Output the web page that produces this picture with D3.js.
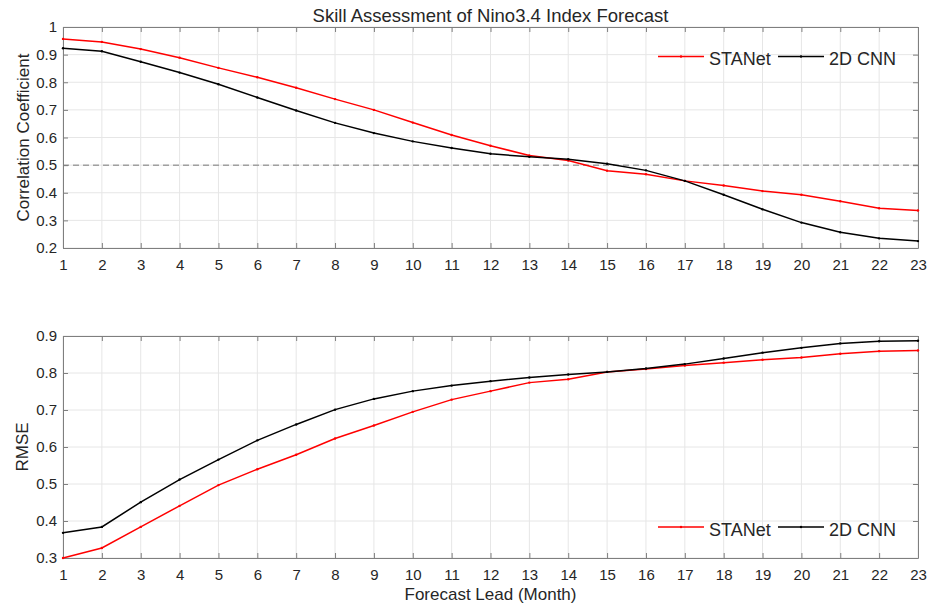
<!DOCTYPE html>
<html>
<head>
<meta charset="utf-8">
<script src="https://cdn.jsdelivr.net/npm/d3@7"></script>
<style>
  body { margin: 0; background: #fff; }
  svg text { font-family: "Liberation Sans", Arial, sans-serif; fill: #262626; }
</style>
</head>
<body>
<svg id="chart" width="939" height="607"></svg>
<script>
// forecast lead months
var leads = d3.range(1, 24);

// correlation coefficient per lead
var corrSTANet = [0.957, 0.946, 0.920, 0.889, 0.852, 0.818, 0.780, 0.739, 0.700, 0.654, 0.609, 0.570,
                  0.535, 0.517, 0.480, 0.467, 0.443, 0.426, 0.406, 0.393, 0.369, 0.344, 0.336];
var corrCNN = [0.923, 0.912, 0.874, 0.835, 0.793, 0.745, 0.698, 0.653, 0.616, 0.586, 0.562, 0.541,
               0.530, 0.521, 0.505, 0.481, 0.443, 0.393, 0.340, 0.292, 0.257, 0.235, 0.225];

// rmse per lead
var rmseSTANet = [0.300, 0.327, 0.384, 0.441, 0.497, 0.540, 0.579, 0.623, 0.658, 0.695, 0.728, 0.751,
                  0.774, 0.783, 0.803, 0.811, 0.820, 0.828, 0.836, 0.842, 0.852, 0.859, 0.861];
var rmseCNN = [0.368, 0.384, 0.451, 0.512, 0.566, 0.618, 0.661, 0.701, 0.730, 0.751, 0.766, 0.778,
               0.788, 0.796, 0.803, 0.812, 0.824, 0.839, 0.855, 0.868, 0.880, 0.886, 0.887];

var corrTicks = [0.2, 0.3, 0.4, 0.5, 0.6, 0.7, 0.8, 0.9, 1];
var rmseTicks = [0.3, 0.4, 0.5, 0.6, 0.7, 0.8, 0.9];
var seriesNames = ["STANet", "2D CNN"];
var seriesColors = ["#ff0000", "#000000"];

var svg = d3.select("#chart");
var left = 63, right = 918;

var x = d3.scaleLinear().domain([1, 23]).range([left, right]);

function drawPanel(top, bottom, domain, ticks, series, yLabel, labelX, legendY, refLine) {
    var y = d3.scaleLinear().domain(domain).range([bottom, top]);
    var g = svg.append("g");

    // grid
    g.selectAll("line.vgrid").data(leads).enter().append("line")
        .attr("x1", function (d) { return x(d); }).attr("x2", function (d) { return x(d); })
        .attr("y1", top).attr("y2", bottom)
        .attr("stroke", "#e6e6e6").attr("stroke-width", 1);
    g.selectAll("line.hgrid").data(ticks).enter().append("line")
        .attr("x1", left).attr("x2", right)
        .attr("y1", function (d) { return y(d); }).attr("y2", function (d) { return y(d); })
        .attr("stroke", "#e6e6e6").attr("stroke-width", 1);

    if (refLine !== undefined) {
        g.append("line")
            .attr("x1", left).attr("x2", right)
            .attr("y1", y(refLine)).attr("y2", y(refLine))
            .attr("stroke", "#a0a0a0").attr("stroke-width", 1.5)
            .attr("stroke-dasharray", "6,4");
    }

    // axes with inward ticks
    var fmt = function (d) { return d === 1 ? "1" : d3.format(".1f")(d); };
    var bottomAxis = g.append("g").attr("transform", "translate(0," + bottom + ")")
        .call(d3.axisBottom(x).tickValues(leads).tickSizeInner(-5).tickSizeOuter(0).tickPadding(11).tickFormat(d3.format("d")));
    var topAxis = g.append("g").attr("transform", "translate(0," + top + ")")
        .call(d3.axisTop(x).tickValues(leads).tickSizeInner(-5).tickSizeOuter(0).tickFormat(""));
    var leftAxis = g.append("g").attr("transform", "translate(" + left + ",0)")
        .call(d3.axisLeft(y).tickValues(ticks).tickSizeInner(-5).tickSizeOuter(0).tickPadding(6).tickFormat(fmt));
    var rightAxis = g.append("g").attr("transform", "translate(" + right + ",0)")
        .call(d3.axisRight(y).tickValues(ticks).tickSizeInner(-5).tickSizeOuter(0).tickFormat(""));
    [bottomAxis, topAxis, leftAxis, rightAxis].forEach(function (a) {
        a.select(".domain").attr("stroke", "#7f7f7f");
        a.selectAll(".tick line").attr("stroke", "#7f7f7f");
        a.selectAll("text").attr("font-size", "15px").attr("fill", "#404040")
            .attr("font-family", "'Liberation Sans', Arial, sans-serif");
    });

    // lines
    var line = d3.line()
        .x(function (d, i) { return x(leads[i]); })
        .y(function (d) { return y(d); });
    series.forEach(function (s, k) {
        g.append("path").datum(s)
            .attr("fill", "none")
            .attr("stroke", seriesColors[k])
            .attr("stroke-width", 1.5)
            .attr("d", line);
        g.selectAll("circle.s" + k).data(s).enter().append("circle")
            .attr("cx", function (d, i) { return x(leads[i]); })
            .attr("cy", function (d) { return y(d); })
            .attr("r", 1.2)
            .attr("fill", seriesColors[k]);
    });

    // y label
    g.append("text")
        .attr("transform", "translate(" + labelX + "," + ((top + bottom) / 2) + ") rotate(-90)")
        .attr("text-anchor", "middle")
        .attr("font-size", "17px")
        .attr("fill", "#404040")
        .text(yLabel);

    // legend (no box)
    var legendX = [658, 778];
    seriesNames.forEach(function (name, k) {
        g.append("line")
            .attr("x1", legendX[k]).attr("x2", legendX[k] + 46)
            .attr("y1", legendY).attr("y2", legendY)
            .attr("stroke", seriesColors[k]).attr("stroke-width", 1.5);
        g.append("circle")
            .attr("cx", legendX[k] + 23).attr("cy", legendY).attr("r", 1.2)
            .attr("fill", seriesColors[k]);
        g.append("text")
            .attr("x", legendX[k] + 51).attr("y", legendY + 8.5)
            .attr("font-size", "18px")
            .attr("fill", "#262626")
            .text(name);
    });
}

drawPanel(27, 248, [0.2, 1], corrTicks, [corrSTANet, corrCNN], "Correlation Coefficient", 29, 56.5, 0.5);
drawPanel(336, 558, [0.3, 0.9], rmseTicks, [rmseSTANet, rmseCNN], "RMSE", 28, 527);

svg.append("text")
    .attr("x", (left + right) / 2).attr("y", 22)
    .attr("text-anchor", "middle")
    .attr("font-size", "18.5px")
    .attr("fill", "#262626")
    .text("Skill Assessment of Nino3.4 Index Forecast");

svg.append("text")
    .attr("x", (left + right) / 2).attr("y", 600)
    .attr("text-anchor", "middle")
    .attr("font-size", "17px")
    .attr("fill", "#404040")
    .text("Forecast Lead (Month)");
</script>
</body>
</html>
